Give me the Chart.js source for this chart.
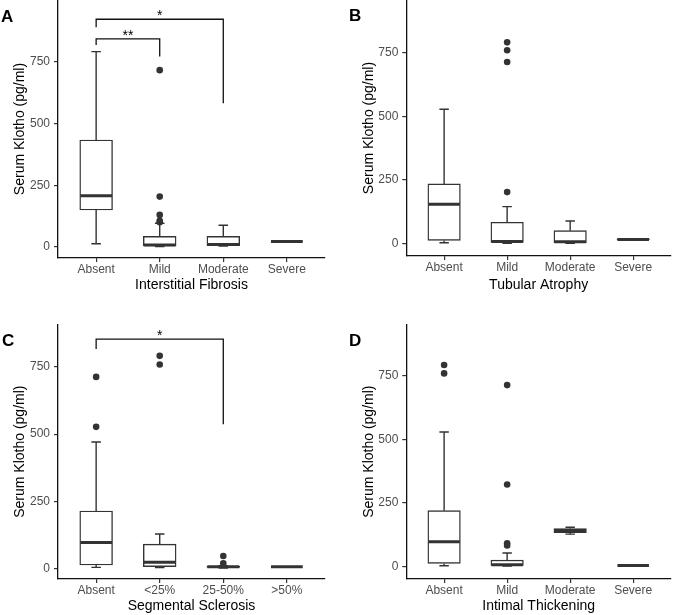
<!DOCTYPE html>
<html>
<head>
<meta charset="utf-8">
<script src="https://cdn.jsdelivr.net/npm/chart.js@4.4.1/dist/chart.umd.min.js"></script>
<style>
  html, body { margin: 0; padding: 0; background: #fff; }
  #wrap { position: relative; width: 674px; height: 615px; overflow: hidden; }
  .pane { position: absolute; }
  .lbl { position: absolute; font: bold 17px "Liberation Sans", Arial, sans-serif; line-height: 17px; color: #000; }
</style>
</head>
<body>
<div id="wrap">
  <div class="pane" style="left:0;top:0;width:337px;height:295px"><canvas id="cA"></canvas></div>
  <div class="pane" style="left:337px;top:0;width:337px;height:295px"><canvas id="cB"></canvas></div>
  <div class="pane" style="left:0;top:295px;width:337px;height:320px"><canvas id="cC"></canvas></div>
  <div class="pane" style="left:337px;top:295px;width:337px;height:320px"><canvas id="cD"></canvas></div>
  <div class="lbl" style="left:1px;top:8px">A</div>
  <div class="lbl" style="left:349px;top:7px">B</div>
  <div class="lbl" style="left:2px;top:332px">C</div>
  <div class="lbl" style="left:349px;top:332px">D</div>
</div>
<script>
// ---------- DATA ----------
const yTicks = [0, 250, 500, 750];
const yTitle = 'Serum Klotho (pg/ml)';

// Panel A: Interstitial Fibrosis
const catsA = ['Absent', 'Mild', 'Moderate', 'Severe'];
const loA  = [13, 2, 4, 22];
const q1A  = [150, 4, 5, 22];
const medA = [208, 8, 10, 22];
const q3A  = [433, 43, 43, 22];
const hiA  = [791, 96, 88, 22];
const outA = [[], [100, 106, 130, 204, 716], [], []];
const sigA = [
  { from: 1, to: 2, y: 843, leftEnd: 818, rightEnd: 771, label: '**' },
  { from: 1, to: 3, y: 922, leftEnd: 890, rightEnd: 582, label: '*' }
];

// Panel B: Tubular Atrophy
const catsB = ['Absent', 'Mild', 'Moderate', 'Severe'];
const loB  = [5, 3, 3, 16];
const q1B  = [14, 6, 5, 17];
const medB = [155, 10, 9, 18];
const q3B  = [235, 85, 52, 20];
const hiB  = [527, 146, 90, 21];
const outB = [[], [203, 712, 758, 789], [], []];
const sigB = [];

// Panel C: Segmental Sclerosis
const catsC = ['Absent', '<25%', '25-50%', '>50%'];
const loC  = [6, 5, 4, 8];
const q1C  = [15, 9, 6, 8];
const medC = [98, 25, 8, 8];
const q3C  = [215, 92, 10, 8];
const hiC  = [471, 130, 12, 8];
const outC = [[527, 712], [758, 790], [21, 48], []];
const sigC = [
  { from: 1, to: 3, y: 852, leftEnd: 815, rightEnd: 537, label: '*' }
];

// Panel D: Intimal Thickening
const catsD = ['Absent', 'Mild', 'Moderate', 'Severe'];
const loD  = [4, 3, 128, 5];
const q1D  = [13, 5, 134, 5];
const medD = [98, 8, 142, 5];
const q3D  = [220, 26, 150, 5];
const hiD  = [529, 54, 155, 5];
const outD = [[759, 792], [83, 92, 323, 713], [], []];
const sigD = [];

// ---------- RENDERING ----------
Chart.defaults.font.family = '"Liberation Sans", Arial, Helvetica, sans-serif';
Chart.defaults.animation = false;

const INK = '#333333';

const sigTextPlugin = {
  id: 'sigText',
  afterDatasetsDraw(chart, args, opts) {
    const items = opts.items || [];
    const ctx = chart.ctx;
    const xs = chart.scales.x, ys = chart.scales.y;
    ctx.save();
    ctx.fillStyle = '#000';
    ctx.font = '14px "Liberation Sans", Arial, sans-serif';
    ctx.textAlign = 'center';
    ctx.textBaseline = 'alphabetic';
    items.forEach(s => {
      ctx.fillText(s.label, xs.getPixelForValue((s.from + s.to) / 2), ys.getPixelForValue(s.y) + 1);
    });
    ctx.restore();
  }
};

function makeChart(id, p) {
  const areaW = p.w - p.yw - p.pad.right;
  const barW = areaW / 4.2 * 0.5;

  const boxData = p.cats.map((c, i) => ({ x: i + 1, y: [p.q1[i], p.q3[i]] }));
  const medPts = [], whPts = [], outPts = [], sigPts = [];
  p.cats.forEach((c, i) => {
    const x = i + 1;
    medPts.push({ x: x - 0.25, y: p.med[i] }, { x: x + 0.25, y: p.med[i] }, { x: x + 0.25, y: null });
    whPts.push({ x: x, y: p.q3[i] }, { x: x, y: p.hi[i] }, { x: x, y: null });
    whPts.push({ x: x - 0.075, y: p.hi[i] }, { x: x + 0.075, y: p.hi[i] }, { x: x, y: null });
    whPts.push({ x: x, y: p.q1[i] }, { x: x, y: p.lo[i] }, { x: x, y: null });
    whPts.push({ x: x - 0.075, y: p.lo[i] }, { x: x + 0.075, y: p.lo[i] }, { x: x, y: null });
    p.out[i].forEach(v => outPts.push({ x: x, y: v }));
  });
  p.sig.forEach(s => {
    sigPts.push({ x: s.from, y: s.leftEnd }, { x: s.from, y: s.y }, { x: s.to, y: s.y }, { x: s.to, y: s.rightEnd }, { x: s.to, y: null });
  });

  const lineBase = { type: 'line', pointRadius: 0, fill: false, spanGaps: false, tension: 0 };

  return new Chart(document.getElementById(id), {
    type: 'bar',
    data: {
      datasets: [
        Object.assign({}, lineBase, { label: 'signif', data: sigPts, borderColor: '#111', borderWidth: 1.3, order: 0, clip: false }),
        { type: 'line', label: 'outliers', data: outPts, showLine: false, pointRadius: 3.3, pointBackgroundColor: INK, pointBorderColor: INK, pointBorderWidth: 0, order: 1 },
        Object.assign({}, lineBase, { label: 'median', data: medPts, borderColor: INK, borderWidth: 3, borderCapStyle: 'butt', order: 2 }),
        Object.assign({}, lineBase, { label: 'whiskers', data: whPts, borderColor: INK, borderWidth: 1.4, order: 3 }),
        { type: 'bar', label: 'box', data: boxData, backgroundColor: '#ffffff', borderColor: INK, borderWidth: 1.4, borderSkipped: false, barThickness: barW + 1, order: 4 }
      ]
    },
    options: {
      responsive: false,
      maintainAspectRatio: false,
      animation: false,
      events: [],
      layout: { padding: p.pad, autoPadding: false },
      plugins: { legend: { display: false }, tooltip: { enabled: false }, sigText: { items: p.sig } },
      scales: {
        x: {
          type: 'linear', min: 0.4, max: 4.6, offset: false,
          afterBuildTicks: s => { s.ticks = p.cats.map((c, i) => ({ value: i + 1 })); },
          afterFit: s => { s.height = p.h - p.pad.bottom - p.bottom; s.paddingLeft = 0; s.paddingRight = 0; },
          ticks: { autoSkip: false, maxRotation: 0, padding: 0, color: '#4D4D4D', font: { size: 12 },
                   callback: v => p.cats[Math.round(v) - 1] },
          grid: { display: true, offset: false, drawOnChartArea: false, drawTicks: true, tickLength: 4, color: INK, lineWidth: 1.2 },
          border: { display: true, color: '#111', width: 1.3 },
          title: { display: true, text: p.xTitle, color: '#000', font: { size: 14 }, padding: { top: 0, bottom: 0 } }
        },
        y: {
          type: 'linear', min: p.ymin, max: p.ymax,
          afterBuildTicks: s => { s.ticks = yTicks.map(v => ({ value: v })); },
          afterFit: s => { s.width = p.yw; s.paddingTop = 0; s.paddingBottom = 0; },
          ticks: { padding: 4, color: '#4D4D4D', font: { size: 12 } },
          grid: { display: true, offset: false, drawOnChartArea: false, drawTicks: true, tickLength: 4, color: INK, lineWidth: 1.2 },
          border: { display: true, color: '#111', width: 1.3 },
          title: { display: true, text: yTitle, color: '#000', font: { size: 14 }, padding: { top: p.ytp, bottom: 0 } }
        }
      }
    },
    plugins: [sigTextPlugin]
  });
}

function sizeCanvas(id, w, h) {
  const c = document.getElementById(id);
  c.width = w; c.height = h; c.style.width = w + 'px'; c.style.height = h + 'px';
}
sizeCanvas('cA', 337, 295); sizeCanvas('cB', 337, 295);
sizeCanvas('cC', 337, 320); sizeCanvas('cD', 337, 320);

makeChart('cA', { cats: catsA, lo: loA, q1: q1A, med: medA, q3: q3A, hi: hiA, out: outA, sig: sigA,
  xTitle: 'Interstitial Fibrosis', w: 337, h: 295, yw: 58, bottom: 258, ytp: 11.6,
  pad: { left: 0, top: 0, right: 12, bottom: 1.6 }, ymin: -44.5, ymax: 1000 });
makeChart('cB', { cats: catsB, lo: loB, q1: q1B, med: medB, q3: q3B, hi: hiB, out: outB, sig: sigB,
  xTitle: 'Tubular Atrophy', w: 337, h: 295, yw: 69.3, bottom: 256, ytp: 23.3,
  pad: { left: 0, top: 0, right: 3, bottom: 1.6 }, ymin: -47, ymax: 954.6 });
makeChart('cC', { cats: catsC, lo: loC, q1: q1C, med: medC, q3: q3C, hi: hiC, out: outC, sig: sigC,
  xTitle: 'Segmental Sclerosis', w: 337, h: 320, yw: 58, bottom: 284, ytp: 11.6,
  pad: { left: 0, top: 29.3, right: 12, bottom: 0 }, ymin: -37, ymax: 907 });
makeChart('cD', { cats: catsD, lo: loD, q1: q1D, med: medD, q3: q3D, hi: hiD, out: outD, sig: sigD,
  xTitle: 'Intimal Thickening', w: 337, h: 320, yw: 69.3, bottom: 284, ytp: 23.3,
  pad: { left: 0, top: 29.3, right: 3, bottom: 0 }, ymin: -48.3, ymax: 951.8 });
</script>
</body>
</html>
